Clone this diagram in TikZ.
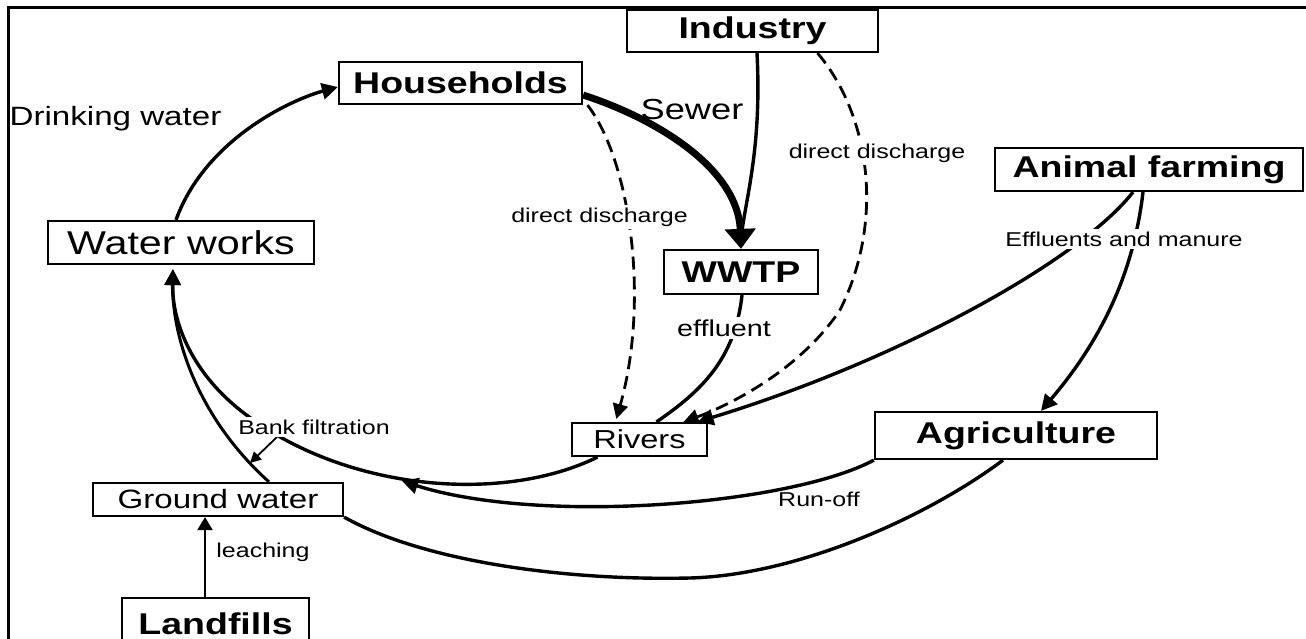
\documentclass[tikz,border=0pt]{standalone}
\usepackage{fontspec}
\setmainfont{Liberation Sans}[FakeStretch=1.25]
\usetikzlibrary{arrows.meta,calc}
\begin{document}
\begin{tikzpicture}[x=1pt,y=-1pt,
  box/.style={draw,line width=2.2pt,inner sep=0pt},
  bigb/.style={box,font=\fontsize{30}{34}\selectfont\bfseries},
  lab/.style={inner sep=2pt,font=\fontsize{20}{24}\selectfont},
  wlab/.style={lab,fill=white,inner sep=3pt},
  con/.style={line width=3.4pt},
  tip/.style={-{Triangle[length=16pt,width=16pt]}},
  ddash/.style={line width=2.8pt,dash pattern=on 13pt off 7pt},
]
\useasboundingbox (0,0) rectangle (1306,639);
\fill[white] (0,0) rectangle (1306,639);
% frame
\draw[line width=2.6pt] (8.5,639) -- (8.5,7.5) -- (1306,7.5);

% boxes
\node[bigb,minimum width=251pt,minimum height=42pt] (ind) at (752.5,31) {Industry};
\node[bigb,minimum width=243pt,minimum height=42pt] (hh) at (460.5,83) {Households};
\node[box,font=\fontsize{33}{38}\selectfont,minimum width=266pt,minimum height=43pt] (ww) at (181,242.5) {Water works};
\node[bigb,minimum width=154pt,minimum height=44pt] (wwtp) at (741,272) {WWTP};
\node[bigb,minimum width=308pt,minimum height=43pt] (af) at (1149,169.5) {Animal farming};
\node[box,font=\fontsize{26}{30}\selectfont,minimum width=135pt,minimum height=33pt] (rv) at (639.5,439.5) {Rivers};
\node[bigb,minimum width=282pt,minimum height=47pt] (ag) at (1016,435.5) {Agriculture};
\node[box,font=\fontsize{26.5}{30}\selectfont,minimum width=250pt,minimum height=33pt] (gw) at (218,499.5) {Ground water};
\node[bigb,minimum width=187pt,minimum height=52pt] (lf) at (215.5,624) {Landfills};

\coordinate (m) at (402,481);
\coordinate (bf) at (240,410);
\coordinate (bfa) at (277,437);
\coordinate (bfb) at (250,463);
\coordinate (lo) at (690,578);
\coordinate (dd) at (840,310);

% connectors
\draw[con,tip] ([xshift=-5pt]ww.north) .. controls (205,140) and (290,100) .. ([yshift=-4pt]hh.west);
\draw[con] ([xshift=4.5pt]ind.south) .. controls (762,150) and (745,200) .. ($(wwtp.north)+(0,-10)$);
\draw[line width=7pt,-{Triangle[length=20pt,width=30pt]}] ([yshift=-12pt]hh.east) .. controls (660,120) and (738,170) .. (wwtp.north);
\draw[ddash,-{Triangle[length=15pt,width=15pt]}] ([xshift=65pt]ind.south) .. controls (870,115) and (885,220) .. (dd) .. controls (800,370) and (730,405) .. ([xshift=44pt]rv.north);
\draw[ddash,-{Triangle[length=15pt,width=15pt]},shorten >=3pt] ([xshift=127pt]hh.south) .. controls (630,160) and (650,300) .. ([xshift=-24pt]rv.north);
\draw[con] ([xshift=1pt]wwtp.south) .. controls (735,360) and (700,392) .. ([xshift=17pt]rv.north);
\draw[con,tip] ([xshift=-16pt]af.south) .. controls (1080,260) and (900,360) .. ([xshift=58pt]rv.north);
\draw[con,tip] ([xshift=-6pt]af.south) .. controls (1135,260) and (1110,330) .. ([xshift=25pt]ag.north);
\draw[con,tip,shorten >=4pt] ([xshift=-42pt]rv.south) .. controls (500,505) and (340,490) .. (bf) .. controls (190,370) and (172,320) .. ([xshift=-8pt]ww.south);
\draw[line width=3pt,tip,shorten >=4pt] ([xshift=51pt]gw.north) .. controls (200,420) and (172,340) .. ([xshift=-8pt]ww.south);
\draw[line width=1.8pt,-{Triangle[length=11pt,width=11pt]}] (bfa) -- (bfb);
\draw[con,tip] (ag.south west) .. controls (790,505) and (540,525) .. (m);
\draw[con] ([xshift=-13pt]ag.south) .. controls (930,515) and (800,575) .. (lo) .. controls (560,581) and (420,560) .. (gw.south east);
\draw[line width=2.2pt,-{Triangle[length=13pt,width=15pt]}] ([xshift=-10.5pt]lf.north) -- ([xshift=-13pt]gw.south);

% labels
\node[font=\fontsize{26.5}{30}\selectfont] (dw) at (115.5,119) {Drinking water};
\node[font=\fontsize{29}{34}\selectfont] (sw) at (692,110) {Sewer};
\node[wlab] (dd1) at (599.5,217) {direct discharge};
\node[wlab] (dd2) at (877,153) {direct discharge};
\node[wlab,font=\fontsize{23}{27}\selectfont] (eff) at (724,328) {effluent};
\node[wlab] (em) at (1124,239) {Effluents and manure};
\node[wlab] (bfl) at (314,427) {Bank filtration};
\node[lab] (ro) at (819,499) {Run-off};
\node[lab] (le) at (263,552) {leaching};
\end{tikzpicture}
\end{document}
